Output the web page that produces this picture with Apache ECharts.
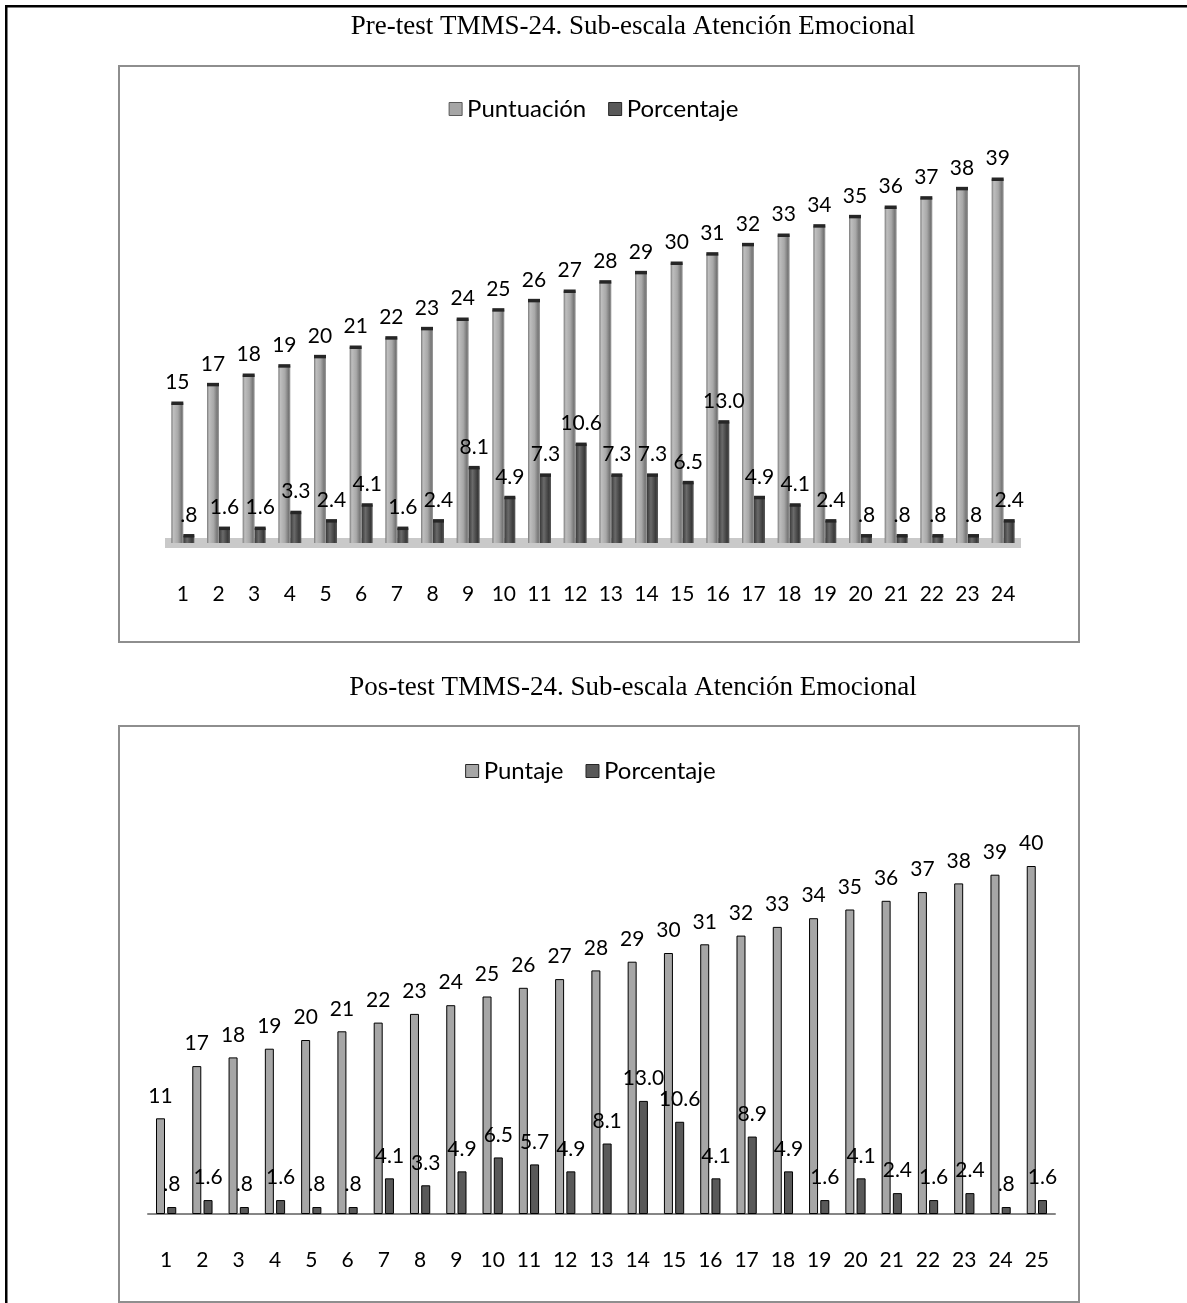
<!DOCTYPE html>
<html>
<head>
<meta charset="utf-8">
<script src="https://cdn.jsdelivr.net/npm/echarts@6/dist/echarts.min.js"></script>
<style>
  html, body { margin: 0; padding: 0; background: #ffffff; }
  #c { width: 1187px; height: 1303px; }
</style>
</head>
<body>
<div id="c"></div>
<script>
// Pre-test: sub-scale scores and the share of students at each score
const preCategories = ['1','2','3','4','5','6','7','8','9','10','11','12','13','14','15','16','17','18','19','20','21','22','23','24'];
const preScore = [15,17,18,19,20,21,22,23,24,25,26,27,28,29,30,31,32,33,34,35,36,37,38,39];
const prePercent = [0.8,1.6,1.6,3.3,2.4,4.1,1.6,2.4,8.1,4.9,7.3,10.6,7.3,7.3,6.5,13.0,4.9,4.1,2.4,0.8,0.8,0.8,0.8,2.4];

// Post-test
const postCategories = ['1','2','3','4','5','6','7','8','9','10','11','12','13','14','15','16','17','18','19','20','21','22','23','24','25'];
const postScore = [11,17,18,19,20,21,22,23,24,25,26,27,28,29,30,31,32,33,34,35,36,37,38,39,40];
const postPercent = [0.8,1.6,0.8,1.6,0.8,0.8,4.1,3.3,4.9,6.5,5.7,4.9,8.1,13.0,10.6,4.1,8.9,4.9,1.6,4.1,2.4,1.6,2.4,0.8,1.6];

const preTitle = 'Pre-test TMMS-24. Sub-escala Atención Emocional';
const postTitle = 'Pos-test TMMS-24. Sub-escala Atención Emocional';

const LABEL_FONT = 'Lato';
const TITLE_FONT = '"Liberation Serif", "Times New Roman", serif';

// ".8" style: drop the leading zero, keep one decimal
function pctLabel(p) {
  const s = p.value.toFixed(1);
  return s.charAt(0) === '0' ? s.slice(1) : s;
}

const labelStyle = { show: true, position: 'top', color: '#000', fontFamily: LABEL_FONT, fontSize: 21 };

// shaded fills that give the pre-test columns a rounded, lit look
function shade(stops) {
  return new echarts.graphic.LinearGradient(0, 0, 1, 0, stops.map(c => ({ offset: c[0], color: c[1] })));
}
const preLight = shade([[0, '#7a7a7a'], [0.18, '#bebebe'], [0.55, '#a8a8a8'], [0.85, '#767676'], [1, '#a0a0a0']]);
const preDark = shade([[0, '#3a3a3a'], [0.35, '#6a6a6a'], [0.8, '#3a3a3a'], [1, '#5c5c5c']]);

const PRE_LIGHT_W = 12;
const PRE_DARK_W = 11;
// dark rim on top of each pre-test column
function capSeries(values, shift, width) {
  return {
    type: 'custom',
    xAxisIndex: 0, yAxisIndex: 0,
    silent: true, z: 4,
    data: values.map((v, i) => [i, v]),
    renderItem: function (params, api) {
      const pt = api.coord([api.value(0), api.value(1)]);
      return {
        type: 'rect',
        shape: { x: pt[0] + shift - width / 2, y: pt[1] - 1.5, width: width, height: 3.5 },
        style: { fill: '#262626' }
      };
    }
  };
}
const pairW = PRE_LIGHT_W + PRE_DARK_W;

const chart = echarts.init(document.getElementById('c'), null, { renderer: 'canvas' });

chart.setOption({
  backgroundColor: '#ffffff',
  animation: false,
  graphic: [
    { type: 'rect', shape: { x: 5, y: 5, width: 1182, height: 2.5 }, style: { fill: '#000' } },
    { type: 'rect', shape: { x: 5, y: 5, width: 2.5, height: 1298 }, style: { fill: '#000' } },
    { type: 'rect', shape: { x: 119, y: 66, width: 960, height: 576 }, style: { fill: 'none', stroke: '#8e8e8e', lineWidth: 2 } },
    { type: 'rect', shape: { x: 119, y: 726, width: 960, height: 576 }, style: { fill: 'none', stroke: '#8e8e8e', lineWidth: 2 } },
    { type: 'text', x: 633, y: 27, style: { text: preTitle, font: '27px ' + TITLE_FONT, fill: '#000', textAlign: 'center', textVerticalAlign: 'middle' } },
    { type: 'text', x: 633, y: 688, style: { text: postTitle, font: '27px ' + TITLE_FONT, fill: '#000', textAlign: 'center', textVerticalAlign: 'middle' } }
  ],
  legend: [
    {
      top: 92, left: 'center',
      itemWidth: 13, itemHeight: 13, itemGap: 22,
      textStyle: { fontFamily: LABEL_FONT, fontSize: 24, color: '#000' },
      data: [
        { name: 'Puntuación', icon: 'rect', itemStyle: { color: '#a6a6a6', borderColor: '#595959', borderWidth: 1 } },
        { name: 'Porcentaje', icon: 'rect', itemStyle: { color: '#595959', borderColor: '#262626', borderWidth: 1 } }
      ]
    },
    {
      top: 754, left: 'center',
      itemWidth: 13, itemHeight: 13, itemGap: 22,
      textStyle: { fontFamily: LABEL_FONT, fontSize: 24, color: '#000' },
      data: [
        { name: 'Puntaje', icon: 'rect', itemStyle: { color: '#a6a6a6', borderColor: '#262626', borderWidth: 1 } },
        { name: 'Porcentaje ', icon: 'rect', itemStyle: { color: '#595959', borderColor: '#262626', borderWidth: 1 } }
      ]
    }
  ],
  grid: [
    { left: 165, right: 166, top: 123, bottom: 760, containLabel: false },
    { left: 148, right: 132, top: 822.5, bottom: 89, containLabel: false }
  ],
  xAxis: [
    {
      type: 'category', gridIndex: 0, data: preCategories,
      axisLine: { show: true, lineStyle: { color: '#c9c9c9', width: 10, cap: 'butt' } },
      axisTick: { show: false },
      axisLabel: { color: '#000', fontFamily: LABEL_FONT, fontSize: 21, margin: 41 }
    },
    {
      type: 'category', gridIndex: 1, data: postCategories,
      axisLine: { show: true, lineStyle: { color: '#868686', width: 2 } },
      axisTick: { show: false },
      axisLabel: { color: '#000', fontFamily: LABEL_FONT, fontSize: 21, margin: 36 }
    }
  ],
  yAxis: [
    { type: 'value', gridIndex: 0, min: 0, max: 45, show: false, splitLine: { show: false } },
    { type: 'value', gridIndex: 1, min: 0, max: 45, show: false, splitLine: { show: false } }
  ],
  series: [
    {
      name: 'Puntuación', type: 'bar', xAxisIndex: 0, yAxisIndex: 0,
      data: preScore, barWidth: PRE_LIGHT_W, barGap: '0%',
      itemStyle: { color: preLight },
      label: Object.assign({}, labelStyle, { distance: 10 })
    },
    {
      name: 'Porcentaje', type: 'bar', xAxisIndex: 0, yAxisIndex: 0,
      data: prePercent, barWidth: PRE_DARK_W, barGap: '0%',
      itemStyle: { color: preDark },
      label: Object.assign({}, labelStyle, { distance: 10, formatter: pctLabel })
    },
    capSeries(preScore, -pairW / 2 + PRE_LIGHT_W / 2, PRE_LIGHT_W),
    capSeries(prePercent, pairW / 2 - PRE_DARK_W / 2, PRE_DARK_W),
    {
      name: 'Puntaje', type: 'bar', xAxisIndex: 1, yAxisIndex: 1,
      data: postScore, barWidth: 9, barGap: '25%',
      itemStyle: { color: '#a6a6a6', borderColor: '#000', borderWidth: 1 },
      label: Object.assign({}, labelStyle, { distance: 12 })
    },
    {
      name: 'Porcentaje ', type: 'bar', xAxisIndex: 1, yAxisIndex: 1,
      data: postPercent, barWidth: 9, barGap: '25%',
      itemStyle: { color: '#595959', borderColor: '#000', borderWidth: 1 },
      label: Object.assign({}, labelStyle, { distance: 12, formatter: pctLabel })
    }
  ]
});
</script>
</body>
</html>
